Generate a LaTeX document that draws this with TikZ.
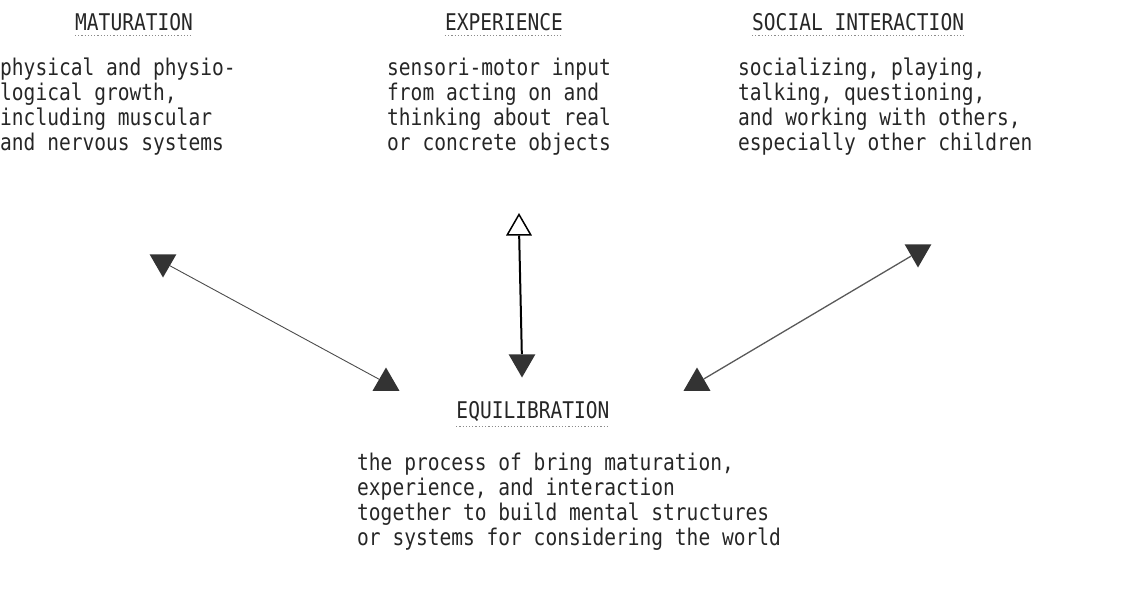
\documentclass[tikz,border=0pt]{standalone}
\usepackage{fontspec}
\newfontfamily\typewr[FakeStretch=0.85]{DejaVu Sans Mono}
\usepackage{tikz}
\usetikzlibrary{shapes.geometric, positioning}

\tikzset{
	head/.style={inner sep=0pt, text=black!85, font={\typewr\fontsize{23}{25}\selectfont}},
	txt/.style={head, align=left, anchor=north west},
	tipup/.style={regular polygon, regular polygon sides=3, minimum size=31pt, inner sep=0pt, fill=black!80},
	tipdown/.style={tipup, shape border rotate=180},
	uline/.style={black!45, dotted, line width=1.2pt}
}

\begin{document}
\begin{tikzpicture}[x=1pt, y=-1pt]
\useasboundingbox (0,0) rectangle (1146,602);

% headings
\node[head, anchor=north west] (mat) at (75,13) {MATURATION};
\node[head, anchor=north] (exp) at (504,13) {EXPERIENCE};
\node[head, anchor=north west] (soc) at (752,13) {SOCIAL INTERACTION};
\node[head, anchor=north] (equ) at (533,401) {EQUILIBRATION};

\foreach \n in {mat,exp,soc,equ}
	\draw[uline] ([yshift=-5pt]\n.south west) -- ([yshift=-5pt]\n.south east);

% text blocks
\node[txt] (mattxt) at (0,58) {physical and physio-\\logical growth,\\including muscular\\and nervous systems};
\node[txt] (exptxt) at (387,58) {sensori-motor input\\from acting on and\\thinking about real\\or concrete objects};
\node[txt] (soctxt) at (738,58) {socializing, playing,\\talking, questioning,\\and working with others,\\especially other children};
\node[txt] (equtxt) at (357,453) {the process of bring maturation,\\experience, and interaction\\together to build mental structures\\or systems for considering the world};

% arrow tips
\node[tipdown] (m1) at (163,262) {};
\node[tipup] (m2) at (386,383) {};
\node[tipup, fill=white, draw=black, line width=1.5pt, minimum size=27pt] (e1) at (519,228) {};
\node[tipdown] (e2) at (522,362) {};
\node[tipup] (s2) at (697,383) {};
\node[tipdown] (s1) at (918,252) {};

% connectors
\draw[black!70, line width=0.9pt] (m1) -- (m2);
\draw[black, line width=2pt] (e1) -- (e2);
\draw[black!65, line width=1.3pt] (s2) -- (s1);

\end{tikzpicture}
\end{document}
